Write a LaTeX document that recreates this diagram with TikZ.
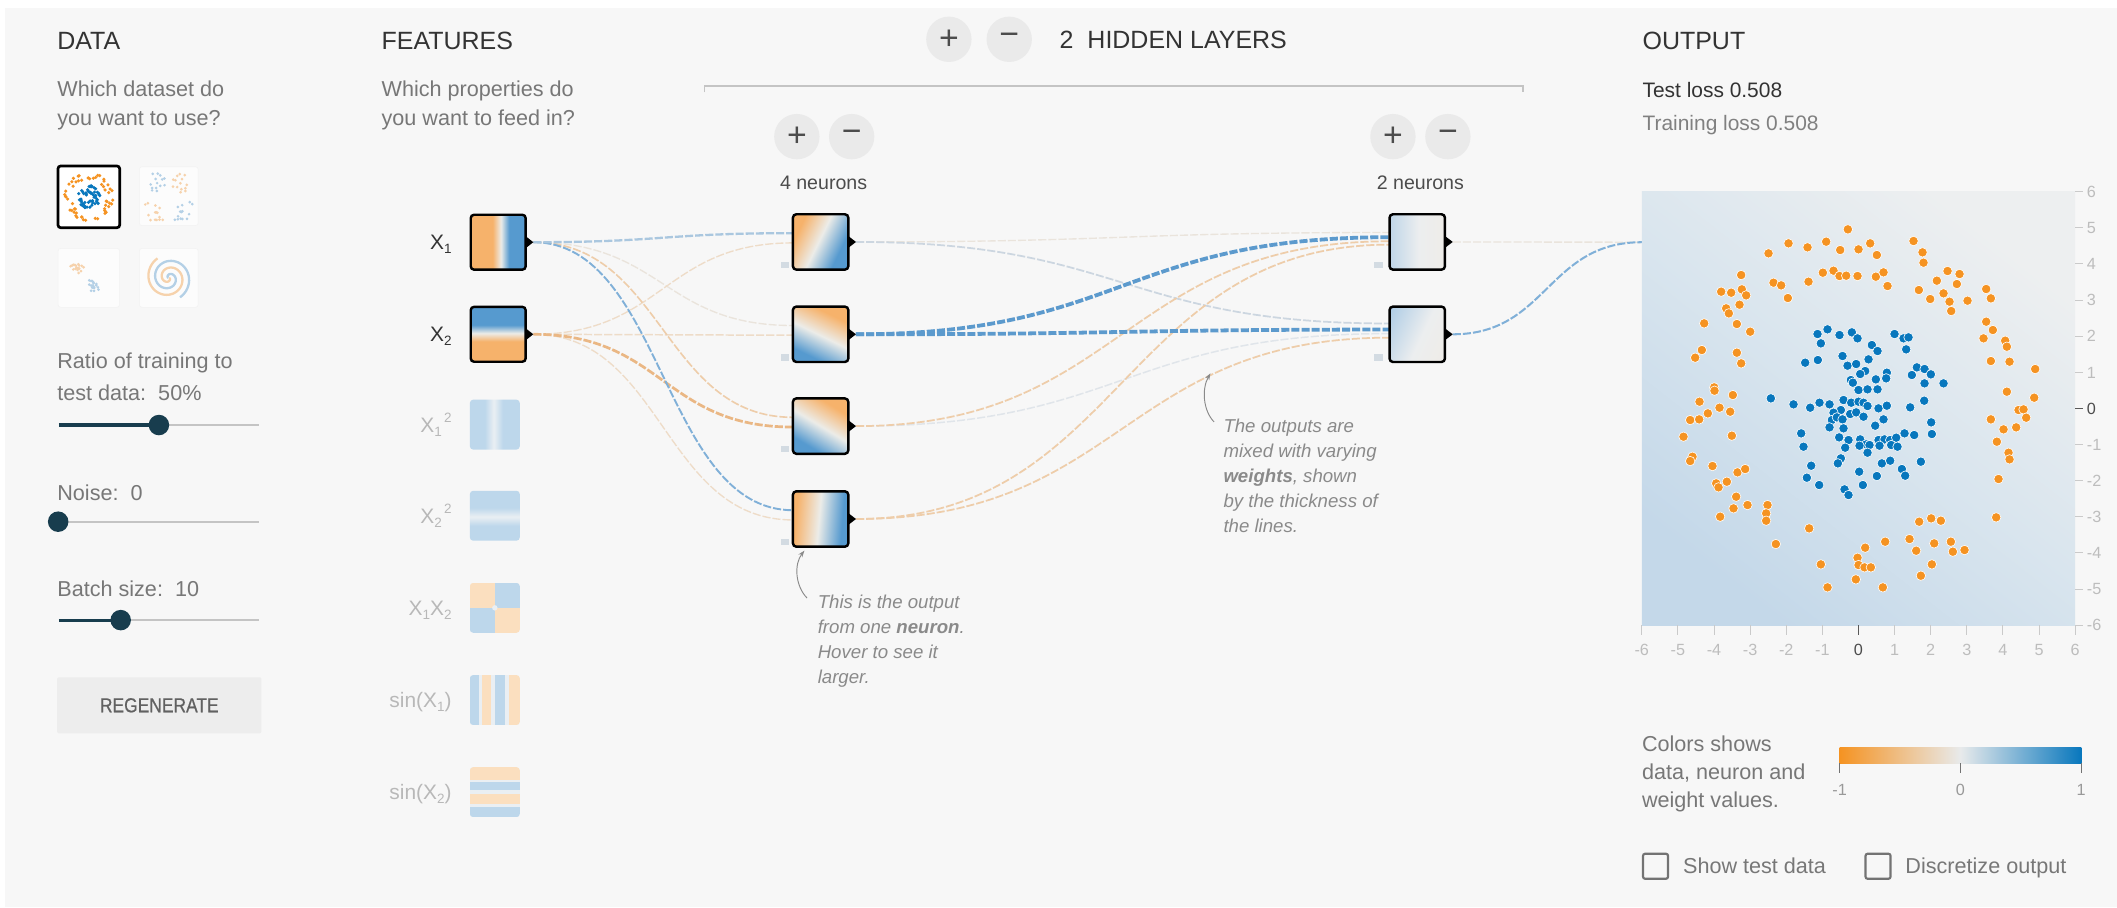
\documentclass[tikz,border=0pt]{standalone}
\usepackage{fontspec}
\setmainfont{Liberation Sans}
\usetikzlibrary{arrows.meta,calc}

\definecolor{cBg}{HTML}{F7F7F7}
\definecolor{cHead}{HTML}{333333}
\definecolor{cGray}{HTML}{777777}
\definecolor{cAnn}{HTML}{8A8A8A}
\definecolor{cFaint}{HTML}{B8B8B8}
\definecolor{cTick}{HTML}{BDBDBD}
\definecolor{cBtn}{HTML}{EAEAEA}
\definecolor{cKnob}{HTML}{183D4E}
\definecolor{cTrack}{HTML}{C4C4C4}
\definecolor{cBias}{HTML}{D3DBE2}
\definecolor{thOr}{RGB}{246,178,107}
\definecolor{thBl}{RGB}{86,154,207}
\definecolor{thMid}{RGB}{236,236,232}
\definecolor{fOr}{RGB}{251,223,191}
\definecolor{fBl}{RGB}{189,215,235}
\definecolor{fW}{RGB}{234,239,243}
\definecolor{pBl}{RGB}{172,203,229}
\definecolor{pW}{RGB}{236,238,239}
\definecolor{pBe}{RGB}{243,233,220}
\definecolor{plA}{RGB}{196,216,233}
\definecolor{plB}{RGB}{217,229,238}
\definecolor{plC}{RGB}{237,239,240}
\definecolor{dOr}{HTML}{F59322}
\definecolor{dBl}{HTML}{0877BD}
\definecolor{cbMid}{RGB}{232,234,235}
\definecolor{lnBlS}{RGB}{92,154,205}
\definecolor{lnBlM}{RGB}{128,176,216}
\definecolor{lnBlL}{RGB}{170,199,223}
\definecolor{lnGr}{RGB}{204,214,224}
\definecolor{lnGrL}{RGB}{224,229,234}
\definecolor{lnOrM}{RGB}{234,183,132}
\definecolor{lnOrL}{RGB}{238,205,170}
\definecolor{lnOrF}{RGB}{238,220,200}
\definecolor{lnBeF}{RGB}{234,228,220}
\definecolor{fDotOr}{RGB}{246,210,172}
\definecolor{fDotBl}{RGB}{180,208,230}

\pgfdeclarehorizontalshading{obS}{100bp}{color(0bp)=(thOr); color(45bp)=(thOr); color(50bp)=(thMid); color(55bp)=(thBl); color(100bp)=(thBl)}
\pgfdeclarehorizontalshading{obSoft}{100bp}{color(0bp)=(thOr); color(36bp)=(thOr); color(50bp)=(thMid); color(64bp)=(thBl); color(100bp)=(thBl)}
\pgfdeclarehorizontalshading{pbS}{100bp}{color(0bp)=(pBl); color(30bp)=(pBl); color(55bp)=(pW); color(100bp)=(pBe)}
\pgfdeclarehorizontalshading{fBand}{100bp}{color(0bp)=(fBl); color(44bp)=(fBl); color(50bp)=(fW); color(56bp)=(fBl); color(100bp)=(fBl)}
\pgfdeclarehorizontalshading{plotS}{100bp}{color(0bp)=(plA); color(25bp)=(plA); color(50bp)=(plB); color(75bp)=(plC); color(100bp)=(plC)}
\pgfdeclarehorizontalshading{cbarS}{100bp}{color(0bp)=(dOr); color(25bp)=(dOr); color(50bp)=(cbMid); color(75bp)=(dBl); color(100bp)=(dBl)}

\newcommand\xsub[1]{\raisebox{-0.38ex}{\fontsize{10}{10}\selectfont #1}}
\newcommand\xsup[1]{\raisebox{0.9ex}{\fontsize{10}{10}\selectfont #1}}

% gradient thumbnail: cx cy size shading angle dx dy
\newcommand\gbox[7]{%
  \begin{scope}
    \clip[rounded corners=2.5pt] ({#1-#3/2},{#2-#3/2}) rectangle ({#1+#3/2},{#2+#3/2});
    \shade[shading=#4, shading angle=#5] ({#1+#6*#3-0.75*#3},{#2+#7*#3-0.75*#3}) rectangle ({#1+#6*#3+0.75*#3},{#2+#7*#3+0.75*#3});
  \end{scope}}

% diagonal link: style, from, to
\newcommand\lnk[3]{%
  \path (#2) -- (#3) coordinate[pos=0.5] (lkm);
  \draw[lk,#1] (#2) .. controls (lkm |- #2) and (lkm |- #3) .. (#3);}

\begin{document}
\begin{tikzpicture}[x=1pt,y=-1pt,
  tHead/.style={anchor=base west, inner sep=0pt, font=\fontsize{18.5}{22}\selectfont, text=cHead},
  tBody/.style={anchor=base west, inner sep=0pt, font=\fontsize{16}{19}\selectfont, text=cGray},
  tAnn/.style={anchor=base west, inner sep=0pt, font=\fontsize{13.8}{16}\selectfont\itshape, text=cAnn},
  tFeat/.style={anchor=base east, inner sep=0pt, font=\fontsize{15.5}{18}\selectfont},
  tTick/.style={anchor=base, inner sep=0pt, font=\fontsize{12}{14}\selectfont, text=cTick},
  pmBtn/.style={circle, fill=cBtn, minimum size=33.6pt, inner sep=0pt, text=black!70, font=\fontsize{25}{25}\selectfont},
  actbox/.style={draw=black, line width=1.8pt, rounded corners=2.5pt, minimum size=#1, inner sep=0pt},
  lk/.style={dash pattern=on 6pt off 1.5pt, line cap=butt},
  annA/.style={draw=cAnn, line width=0.7pt, -{Stealth[length=5pt,width=3.5pt]}},
  dotP/.style={fill=#1, draw=white, line width=0.45pt}
]
\useasboundingbox (0,0) rectangle (1568,672);
\fill[white] (0,0) rectangle (1568,672);
\fill[cBg] (4,6) rectangle (1568,672);

% ================= DATA column =================
\node[tHead] (hData) at (42.3,37) {DATA};
\node[tBody] (dq1) at (42.3,71.6) {Which dataset do};
\node[tBody] (dq2) at (42.3,92.6) {you want to use?};

% dataset thumbnails
\pgfmathsetseed{12}
\fill[white] (43,123) rectangle (88.6,168.7);
\begin{scope}
  \clip (43,123) rectangle (88.6,168.7);
  \begin{scope}[shift={(65.8,145.8)}]
    \foreach \i in {1,...,55}{\pgfmathsetmacro\aa{360*rnd}\pgfmathsetmacro\rr{13+5*rnd}
      \fill[dOr] (\aa:\rr) circle[radius=1.3pt];}
    \foreach \i in {1,...,55}{\pgfmathsetmacro\aa{360*rnd}\pgfmathsetmacro\rr{8.5*sqrt(rnd)}
      \fill[dBl] (\aa:\rr) circle[radius=1.3pt];}
  \end{scope}
\end{scope}
\node[draw=black, line width=2pt, rounded corners=2pt, minimum width=45.7pt, minimum height=45.7pt, inner sep=0pt] (ds1) at (65.8,145.8) {};

\fill[white!60!cBg, draw=black!5, rounded corners=2pt] (103.2,123.5) rectangle (146.8,167.1);
\begin{scope}[shift={(125,145.3)}]
  \foreach \i in {1,...,14}{\pgfmathsetmacro\ux{2+16*rnd}\pgfmathsetmacro\uy{2+16*rnd}
    \fill[fDotBl] ({-\ux},{-\uy}) circle[radius=1.1pt];
    \fill[fDotOr] ({\ux},{-\uy+rnd}) circle[radius=1.1pt];}
  \foreach \i in {1,...,14}{\pgfmathsetmacro\ux{2+16*rnd}\pgfmathsetmacro\uy{2+16*rnd}
    \fill[fDotOr] ({-\ux},{\uy}) circle[radius=1.1pt];
    \fill[fDotBl] ({\ux},{\uy-rnd}) circle[radius=1.1pt];}
\end{scope}

\fill[white!60!cBg, draw=black!5, rounded corners=2pt] (43,184) rectangle (88.6,227.6);
\begin{scope}
  \foreach \i in {1,...,18}{\pgfmathsetmacro\aa{360*rnd}\pgfmathsetmacro\rr{5*sqrt(rnd)}
    \fill[fDotOr, shift={(57,197.5)}] (\aa:\rr) circle[radius=1.1pt];
    \fill[fDotBl, shift={(69.5,211)}] (\aa+40:\rr) circle[radius=1.1pt];}
\end{scope}

\fill[white!60!cBg, draw=black!5, rounded corners=2pt] (103.2,184) rectangle (146.8,227.6);
\begin{scope}[shift={(125,205.8)}]
  \draw[fDotOr, line width=1.7pt] plot[domain=10:600, samples=80, smooth] ({\x}:{\x/36});
  \draw[fDotBl, line width=1.7pt] plot[domain=10:600, samples=80, smooth] ({\x+180}:{\x/36});
\end{scope}

\node[tBody] (ratio1) at (42.3,272.8) {Ratio of training to};
\node[tBody] (ratio2) at (42.3,296.3) {test data:~~50\%};
\draw[cTrack, line width=1.5pt] (43.6,314.8) -- (191.8,314.8);
\draw[cKnob, line width=2.4pt] (43.6,314.8) -- (117.7,314.8);
\fill[cKnob] (117.7,314.8) circle[radius=7.6pt];

\node[tBody] (noise) at (42.3,370.4) {Noise:~~0};
\draw[cTrack, line width=1.5pt] (43.6,386.4) -- (191.8,386.4);
\fill[cKnob] (43.1,386.4) circle[radius=7.6pt];

\node[tBody] (batch) at (42.3,442) {Batch size:~~10};
\draw[cTrack, line width=1.5pt] (43.6,459.3) -- (191.8,459.3);
\draw[cKnob, line width=2.4pt] (43.6,459.3) -- (89.4,459.3);
\fill[cKnob] (89.4,459.3) circle[radius=7.6pt];

\node[fill=black!7, minimum width=151.3pt, minimum height=41.5pt, inner sep=0pt, rounded corners=1pt,
      text=black!62, font=\fontsize{15}{15}\selectfont] (regen) at (118,522.4) {\addfontfeature{FakeStretch=0.86,FakeBold=0.6}REGENERATE};

% ================= FEATURES column =================
\node[tHead] (hFeat) at (282.5,37) {FEATURES};
\node[tBody] (fq1) at (282.5,71.6) {Which properties do};
\node[tBody] (fq2) at (282.5,92.6) {you want to feed in?};

% ================= HIDDEN LAYERS header =================
\node[pmBtn] (hlPlus) at (702.8,29.1) {+};
\node[pmBtn] (hlMinus) at (747.5,29.1) {−};
\node[tHead] (hHidden) at (784.7,35.8) {2~~HIDDEN LAYERS};
\draw[cTrack, line width=0.9pt] (521.7,68.5) -- (521.7,63.7) -- (1128,63.7) -- (1128,68.5);

\node[pmBtn] (l1Plus) at (590.2,101.2) {+};
\node[pmBtn] (l1Minus) at (630.8,101.2) {−};
\node[pmBtn] (l2Plus) at (1031.7,101.2) {+};
\node[pmBtn] (l2Minus) at (1072.4,101.2) {−};
\node[anchor=base, inner sep=0pt, font=\fontsize{14.5}{16}\selectfont, text=black!70] (l1lab) at (610,140.7) {4 neurons};
\node[anchor=base, inner sep=0pt, font=\fontsize{14.5}{16}\selectfont, text=black!70] (l2lab) at (1052,140.7) {2 neurons};

% ================= coordinates for links =================
\coordinate (x1o) at (395,179.4);
\coordinate (x2o) at (395,247.6);
\coordinate (n1o) at (634,179.2);
\coordinate (n2o) at (634,247.6);
\coordinate (n3o) at (634,315.6);
\coordinate (n4o) at (634,384.4);
\coordinate (m1o) at (1076,179.2);
\coordinate (m2o) at (1076,247.6);
\coordinate (n1a) at (587.3,172.7);  \coordinate (n1b) at (587.3,179.9);
\coordinate (n2a) at (587.3,241.1);  \coordinate (n2b) at (587.3,248.3);
\coordinate (n3a) at (587.3,309.1);  \coordinate (n3b) at (587.3,316.3);
\coordinate (n4a) at (587.3,377.9);  \coordinate (n4b) at (587.3,385.1);
\coordinate (m1a) at (1029.2,172.2); \coordinate (m1b) at (1029.2,175.7);
\coordinate (m1c) at (1029.2,178.7); \coordinate (m1d) at (1029.2,181.2);
\coordinate (m2a) at (1029.2,239.6); \coordinate (m2b) at (1029.2,244.1);
\coordinate (m2c) at (1029.2,247.1); \coordinate (m2d) at (1029.2,250.1);
\coordinate (outp) at (1216,179.4);

% ================= links =================
\lnk{lnOrF, line width=1pt}{x2o}{n4b}
\lnk{lnBeF, line width=1pt}{x1o}{n2a}
\lnk{lnOrF, line width=1pt}{x2o}{n1b}
\lnk{lnOrF, line width=1.1pt}{x2o}{n2b}
\lnk{lnOrL, line width=1.2pt}{x1o}{n3a}
\lnk{lnOrM, line width=2pt}{x2o}{n3b}
\lnk{lnBlM, line width=1.4pt}{x1o}{n4a}
\lnk{lnBlL, line width=1.7pt}{x1o}{n1a}

\lnk{lnBeF, line width=1pt}{n1o}{m1a}
\lnk{lnGr, line width=1.3pt}{n1o}{m2a}
\lnk{lnGrL, line width=1.1pt}{n3o}{m2c}
\lnk{lnOrL, line width=1.3pt}{n3o}{m1c}
\lnk{lnOrL, line width=1.3pt}{n4o}{m1d}
\lnk{lnOrL, line width=1.3pt}{n4o}{m2d}
\lnk{lnBlS, line width=2.8pt}{n2o}{m1b}
\lnk{lnBlS, line width=2.8pt}{n2o}{m2b}

\lnk{lnBeF, line width=1pt}{m1o}{outp}
\lnk{lnBlM, line width=1.5pt}{m2o}{outp}

% ================= feature boxes =================
\gbox{369}{179.4}{40.7}{obS}{0}{0.05}{0}
\gbox{369}{247.6}{40.7}{obS}{90}{0}{-0.02}
\node[actbox=40.7pt] (x1) at (369,179.4) {};
\node[actbox=40.7pt] (x2) at (369,247.6) {};
\fill[black] (389.4,175) -- (395,179.4) -- (389.4,183.8) -- cycle;
\fill[black] (389.4,243.2) -- (395,247.6) -- (389.4,252) -- cycle;

\gbox{366.5}{314.5}{37}{fBand}{0}{-0.02}{0}
\gbox{366.5}{382}{37}{fBand}{90}{0}{0.02}
\begin{scope}
  \clip[rounded corners=2.5pt] (348,431.7) rectangle (385,468.7);
  \fill[fOr] (348,431.7) rectangle (366.5,450.2);
  \fill[fBl] (366.5,431.7) rectangle (385,450.2);
  \fill[fBl] (348,450.2) rectangle (366.5,468.7);
  \fill[fOr] (366.5,450.2) rectangle (385,468.7);
  \fill[fW] (366.5,450.2) circle[radius=2pt];
\end{scope}
\begin{scope}
  \clip[rounded corners=2.5pt] (348,500) rectangle (385,537);
  \fill[fW] (348,500) rectangle (385,537);
  \fill[fBl] (348,500) rectangle (354.5,537);
  \fill[fOr] (357,500) rectangle (364,537);
  \fill[fBl] (366.5,500) rectangle (374,537);
  \fill[fOr] (377,500) rectangle (385,537);
\end{scope}
\begin{scope}
  \clip[rounded corners=2.5pt] (348,568.2) rectangle (385,605.2);
  \fill[fW] (348,568.2) rectangle (385,605.2);
  \fill[fOr] (348,568.2) rectangle (385,577.8);
  \fill[fBl] (348,579.3) rectangle (385,585.2);
  \fill[fOr] (348,587.8) rectangle (385,595.2);
  \fill[fBl] (348,597.8) rectangle (385,605.2);
\end{scope}

\node[tFeat, text=cHead] (lx1) at (334.7,184.9) {X\xsub{1}};
\node[tFeat, text=cHead] (lx2) at (334.7,253.1) {X\xsub{2}};
\node[tFeat, text=cFaint] (lx1s) at (334.7,320) {X\xsub{1}\xsup{\,2}};
\node[tFeat, text=cFaint] (lx2s) at (334.7,387.5) {X\xsub{2}\xsup{\,2}};
\node[tFeat, text=cFaint] (lx12) at (334.7,455.7) {X\xsub{1}X\xsub{2}};
\node[tFeat, text=cFaint] (lsin1) at (334.7,524) {sin(X\xsub{1})};
\node[tFeat, text=cFaint] (lsin2) at (334.7,592.2) {sin(X\xsub{2})};

% ================= hidden layer 1 =================
\gbox{607.8}{179.2}{41}{obSoft}{-26}{-0.04}{0}
\gbox{607.8}{247.6}{41}{obSoft}{-116}{0}{0.02}
\gbox{607.8}{315.6}{41}{obSoft}{-121}{0.02}{0.01}
\gbox{607.8}{384.4}{41}{obSoft}{-5}{-0.03}{0}
\foreach \nm/\cy in {n1/179.2, n2/247.6, n3/315.6, n4/384.4}{
  \node[actbox=41pt] (\nm) at (607.8,\cy) {};
  \fill[black] (628.3,\cy-4.4) -- (634,\cy) -- (628.3,\cy+4.4) -- cycle;
  \fill[cBias] (578.6,\cy+14.5) rectangle (584.6,\cy+19.5);
}

% ================= hidden layer 2 =================
\gbox{1049.7}{179.2}{41}{pbS}{0}{-0.12}{0}
\gbox{1049.7}{247.6}{41}{pbS}{-25}{-0.08}{0.02}
\foreach \nm/\cy in {m1/179.2, m2/247.6}{
  \node[actbox=41pt] (\nm) at (1049.7,\cy) {};
  \fill[black] (1070.2,\cy-4.4) -- (1076,\cy) -- (1070.2,\cy+4.4) -- cycle;
  \fill[cBias] (1018,\cy+14.5) rectangle (1024,\cy+19.5);
}

% ================= annotations =================
\node[tAnn] (a1l1) at (605.5,450.7) {This is the output};
\node[tAnn] (a1l2) at (605.5,469.2) {from one \textbf{neuron}.};
\node[tAnn] (a1l3) at (605.5,487.7) {Hover to see it};
\node[tAnn] (a1l4) at (605.5,506.2) {larger.};
\coordinate (a1s) at (597.8,443);
\coordinate (a1t) at (595.8,407.8);
\draw[annA] (a1s) .. controls (589,434) and (588,418) .. (a1t);

\node[tAnn] (a2l1) at (906,320.6) {The outputs are};
\node[tAnn] (a2l2) at (906,339.1) {mixed with varying};
\node[tAnn] (a2l3) at (906,357.6) {\textbf{weights}, shown};
\node[tAnn] (a2l4) at (906,376.1) {by the thickness of};
\node[tAnn] (a2l5) at (906,394.6) {the lines.};
\coordinate (a2s) at (899.2,312.5);
\coordinate (a2t) at (896.5,276.5);
\draw[annA] (a2s) .. controls (891,304) and (890,288) .. (a2t);

% ================= OUTPUT column =================
\node[tHead] (hOut) at (1216.4,37) {OUTPUT};
\node[anchor=base west, inner sep=0pt, font=\fontsize{15.5}{18}\selectfont, text=cHead] (tloss) at (1216.4,72.1) {Test loss 0.508};
\node[anchor=base west, inner sep=0pt, font=\fontsize{15.5}{18}\selectfont, text=black!50] (trloss) at (1216.4,96.8) {Training loss 0.508};

\shade[shading=plotS, shading angle=52] (1216,142) rectangle (1537,463);
\begin{scope}[shift={(1207.41,133.33)}, x=0.24691pt, y=-0.24691pt]
  \foreach \px/\py in {653/148,475/190,532/202,588/185,630/210,685/208,720/190,740/225,415/220,850/183,877/217,880/248,578/278,610/272,628/288,648/287,682/288,737/290,760/277,772/318,535/305,430/308,453/316,473/354,333/285,335/328,273/335,303/338,348/346,328/374,288/385,296/400,320/432,360/455,222/430,215/510,195/533,320/518,333/550,
    952/273,988/282,920/302,980/312,866/330,900/357,940/340,958/365,963/393,1012/362,1068/327,1082/355,1068/425,1088/450,1060/475,1125/482,1130/500,1082/543,1138/545,1215/567,1130/635,1212/653,1165/690,1180/688,1188/713,1082/718,1120/748,1158/742,1100/785,1135/818,1138/838,1105/897,1098/1012,
    252/622,253/632,308/645,208/665,268/683,300/695,233/700,180/720,207/718,160/770,305/767,187/830,180/843,247/858,322/877,345/867,258/910,265/922,290/905,318/950,310/985,352/975,270/1010,412/975,408/1000,408/1022,437/1092,537/1045,
    867/1025,903/1015,932/1022,765/1085,838/1077,858/1112,912/1090,962/1085,968/1115,1003/1110,705/1103,682/1133,685/1155,703/1162,722/1162,572/1153,677/1198,592/1222,758/1222,872/1187,905/1153}
    \filldraw[dotP=dOr] (\px,\py) circle[radius=3.5pt];
  \foreach \px/\py in {562/462,592/448,628/465,665/457,682/475,572/490,793/462,820/475,835/472,828/508,725/495,742/513,525/548,563/540,637/528,652/557,678/552,715/538,705/573,690/582,662/600,668/608,737/598,770/578,768/595,860/562,883/567,902/583,845/585,883/610,940/610,685/630,712/628,742/628,
    422/655,490/673,540/683,568/668,598/673,640/660,632/690,610/698,663/668,685/665,700/668,712/678,745/685,770/677,840/682,882/662,605/720,620/712,660/702,678/697,637/718,598/742,640/745,700/710,735/737,760/718,903/727,905/762,
    513/760,627/772,655/780,690/778,708/793,745/780,763/778,780/780,798/773,823/760,852/765,520/800,645/803,688/797,718/795,748/797,783/795,802/800,632/835,623/850,712/818,755/850,780/842,815/867,825/887,872/845,543/857,530/893,567/915,687/875,698/915,740/888,643/928,655/945}
    \filldraw[dotP=dBl] (\px,\py) circle[radius=3.5pt];
\end{scope}

% axes
\foreach \v [count=\i] in {-6,...,6}{
  \pgfmathsetmacro\yy{302.5-\v*26.75}
  \pgfmathsetmacro\xx{1376.5+\v*26.75}
  \ifnum\v=0
    \draw[black!65, line width=0.7pt] (1537,\yy) -- (1543,\yy);
    \draw[black!65, line width=0.7pt] (\xx,463) -- (\xx,470);
    \node[tTick, anchor=base west, text=black!70] (yl\i) at (1545.5,\yy+4.3) {\v};
    \node[tTick, text=black!70] (xl\i) at (\xx,485.3) {\v};
  \else
    \draw[cTick!80, line width=0.7pt] (1537,\yy) -- (1543,\yy);
    \draw[cTick!80, line width=0.7pt] (\xx,463) -- (\xx,470);
    \node[tTick, anchor=base west] (yl\i) at (1545.5,\yy+4.3) {\v};
    \node[tTick] (xl\i) at (\xx,485.3) {\v};
  \fi
}

% legend
\node[tBody] (leg1) at (1216,556.3) {Colors shows};
\node[tBody] (leg2) at (1216,577.3) {data, neuron and};
\node[tBody] (leg3) at (1216,598.3) {weight values.};
\shade[shading=cbarS] (1362.5,553.6) rectangle (1541.5,565.4);
\foreach \xx/\lab [count=\i] in {1362.5/-1, 1452/0, 1541.5/1}{
  \draw[black!55, line width=0.8pt] (\xx,565.4) -- (\xx,572.5);
  \node[tTick, text=black!40] (cbl\i) at (\xx,589.3) {\lab};
}

% checkboxes
\node[draw=black!55, line width=1.6pt, rounded corners=1.5pt, minimum size=18.5pt, inner sep=0pt] (cb1) at (1226.2,641.6) {};
\node[tBody] (cbt1) at (1246.4,647.1) {Show test data};
\node[draw=black!55, line width=1.6pt, rounded corners=1.5pt, minimum size=18.5pt, inner sep=0pt] (cb2) at (1391,641.6) {};
\node[tBody] (cbt2) at (1411.1,647.1) {Discretize output};

\end{tikzpicture}
\end{document}
